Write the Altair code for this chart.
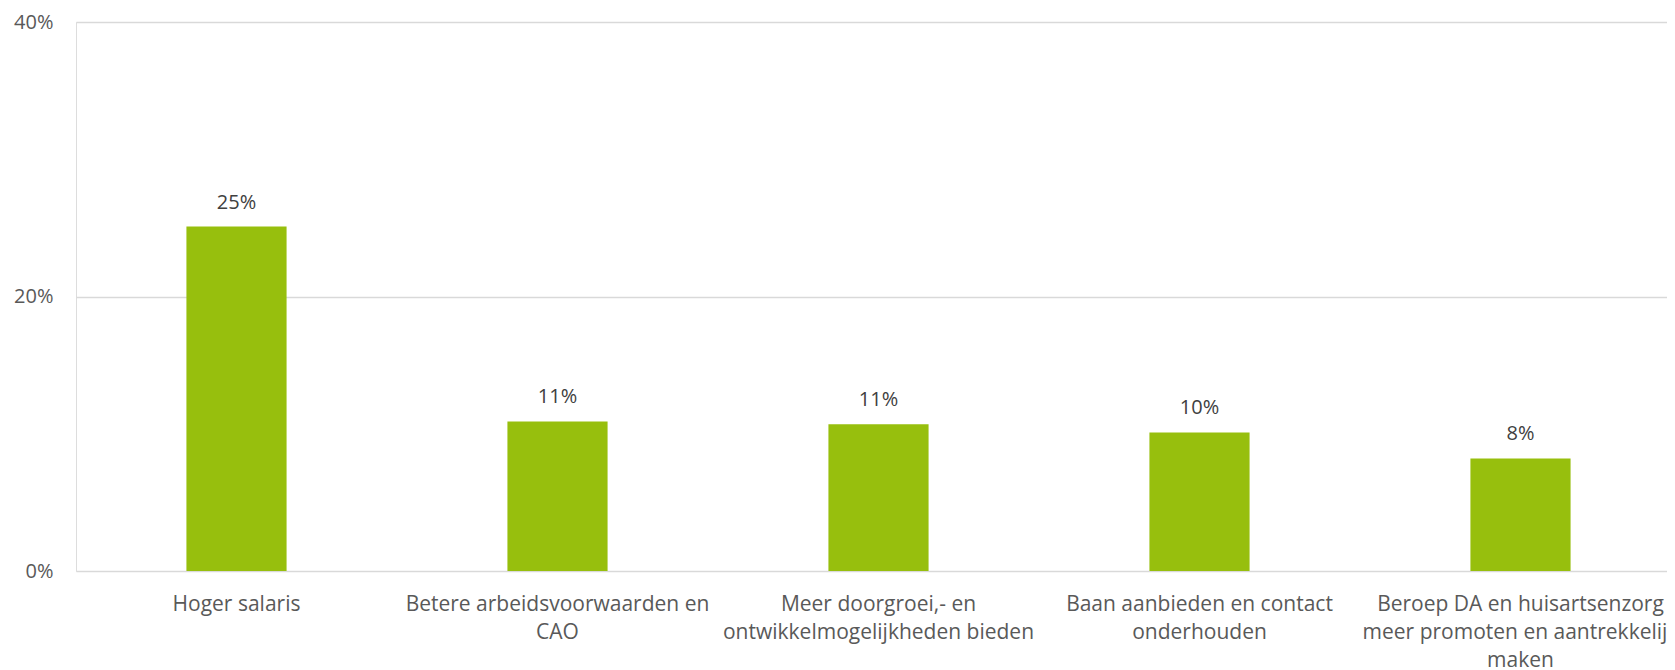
import altair as alt
import pandas as pd

categories = [
    "Hoger salaris",
    "Betere arbeidsvoorwaarden en|CAO",
    "Meer doorgroei,- en|ontwikkelmogelijkheden bieden",
    "Baan aanbieden en contact|onderhouden",
    "Beroep DA en huisartsenzorg|meer promoten en aantrekkelijk|maken",
]
values = [0.251, 0.109, 0.107, 0.101, 0.082]
labels = ["25%", "11%", "11%", "10%", "8%"]

df = pd.DataFrame({"cat": categories, "val": values, "lab": labels})

FONT = "Open Sans"
GREEN = "#97BF0D"

x = alt.X(
    "cat:N",
    sort=None,
    title=None,
    scale=alt.Scale(range=[0, 1605], paddingInner=0.688, paddingOuter=0.344),
    axis=alt.Axis(
        labelAngle=0,
        labelExpr="split(datum.label, '|')",
        labelFont=FONT,
        labelFontSize=21,
        labelColor="#595959",
        labelLineHeight=28,
        labelPadding=22,
        labelBaseline="top",
        labelLimit=0,
        ticks=False,
        domain=False,
        grid=False,
    ),
)
y = alt.Y(
    "val:Q",
    title=None,
    scale=alt.Scale(domain=[0, 0.4], nice=False),
    axis=alt.Axis(
        values=[0, 0.2, 0.4],
        format=".0%",
        labelFont=FONT,
        labelFontSize=20,
        labelColor="#595959",
        labelPadding=23,
        ticks=False,
        domain=False,
        grid=True,
        gridColor="#d9d9d9",
        gridWidth=1.5,
    ),
)

bars = alt.Chart(df).mark_bar(color=GREEN).encode(x=x, y=y)
text = alt.Chart(df).mark_text(
    baseline="alphabetic", dy=-18, font=FONT, fontSize=20, color="#404040"
).encode(x=x, y=y, text="lab:N")

chart = (
    alt.layer(bars, text)
    .properties(
        width=1591,
        height=549,
        autosize=alt.AutoSizeParams(type="none"),
        padding={"left": 68, "top": 14, "right": 0, "bottom": 99},
    )
    .configure_view(stroke=None)
    .configure(background="white")
)

chart.save("out.html", embed_options={"renderer": "svg", "actions": False})
